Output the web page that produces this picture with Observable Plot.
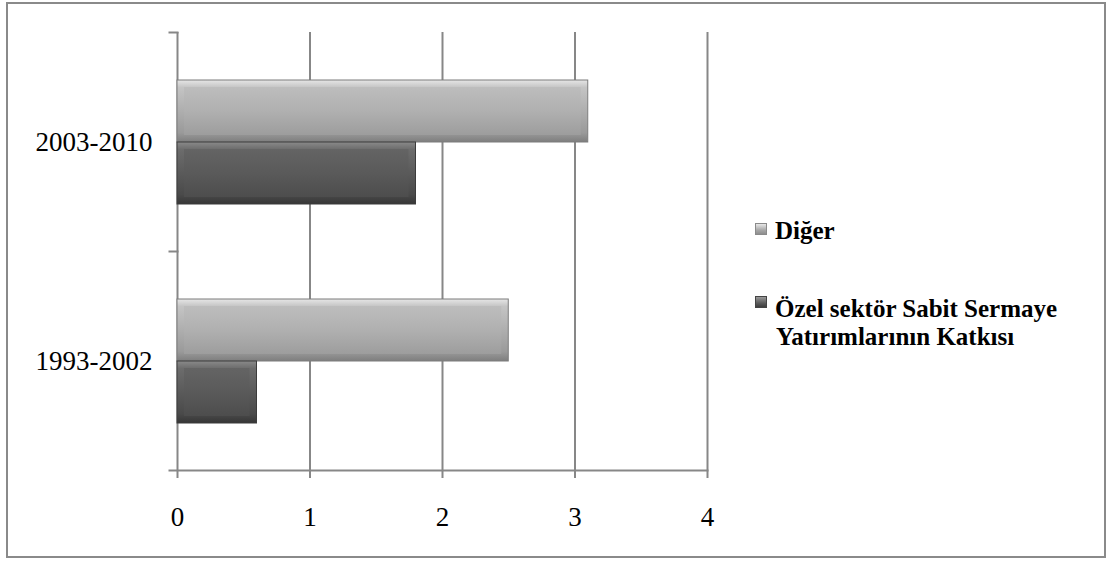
<!DOCTYPE html>
<html>
<head>
<meta charset="utf-8">
<script src="https://cdn.jsdelivr.net/npm/d3@7"></script>
<script src="https://cdn.jsdelivr.net/npm/@observablehq/plot@0.6"></script>
<style>
  body { margin: 0; background: #fff; }
  #wrap { position: relative; width: 1112px; height: 561px; overflow: hidden; font-family: "Liberation Serif", "DejaVu Serif", serif; }
  #border { position: absolute; left: 6px; top: 2px; width: 1100px; height: 556px; box-sizing: border-box; border: 2px solid #8a8a8a; pointer-events: none; }
  .leg { position: absolute; left: 755px; font-family: "Liberation Serif", "DejaVu Serif", serif; font-weight: 700; font-size: 25px; line-height: 28px; color: #000; white-space: nowrap; }
  .sw { position: absolute; left: 0; width: 12px; height: 12px; box-sizing: border-box; }
  .leg span.t { display: block; padding-left: 20px; }
  .leg span.t2 { display: block; padding-left: 21px; }
</style>
</head>
<body>
<div id="wrap">
  <div id="chart"></div>
  <div id="border"></div>
  <div id="legend"></div>
</div>
<script>
const periods = ["2003-2010", "1993-2002"];
const seriesNames = ["Diğer", "Özel sektör Sabit Sermaye Yatırımlarının Katkısı"];
const digerValues = [3.1, 2.5];
const ozelValues = [1.8, 0.6];
const xTicks = [0, 1, 2, 3, 4];

const data = periods.flatMap((p, i) => [
  {period: p, series: seriesNames[0], value: digerValues[i]},
  {period: p, series: seriesNames[1], value: ozelValues[i]}
]);
const diger = data.filter(d => d.series === seriesNames[0]);
const ozel = data.filter(d => d.series === seriesNames[1]);

const axisGray = "#878787";
const serif = "'Liberation Serif', 'DejaVu Serif', serif";

const chart = Plot.plot({
  width: 1112,
  height: 561,
  marginLeft: 177,
  marginRight: 405,
  marginTop: 32,
  marginBottom: 91,
  style: {fontFamily: serif, fontSize: "27px", color: "#000", background: "transparent", overflow: "visible"},
  x: {domain: [0, 4]},
  y: {domain: seriesNames, paddingInner: 0, paddingOuter: 0.766, axis: null},
  fy: {domain: periods, padding: 0},
  marks: [
    Plot.gridX(xTicks, {stroke: axisGray, strokeOpacity: 1, strokeWidth: 2}),
    Plot.frame({anchor: "top", insetLeft: -8, insetRight: 530, stroke: axisGray, strokeWidth: 2}),
    Plot.frame({anchor: "bottom", facetAnchor: "bottom", insetLeft: -8, stroke: axisGray, strokeWidth: 2}),
    Plot.barX(diger, {fy: "period", y: "series", x: "value", fill: "url(#edgeDiger)", stroke: "#7c7c7c", strokeWidth: 1}),
    Plot.barX(diger, {fy: "period", y: "series", x: "value", fill: "url(#faceDiger)", insetTop: 7, insetBottom: 7, insetLeft: 7, insetRight: 7}),
    Plot.barX(ozel, {fy: "period", y: "series", x: "value", fill: "url(#edgeOzel)", stroke: "#3c3c3c", strokeWidth: 1}),
    Plot.barX(ozel, {fy: "period", y: "series", x: "value", fill: "url(#faceOzel)", insetTop: 7, insetBottom: 7, insetLeft: 7, insetRight: 7}),
    Plot.axisX({ticks: xTicks, tickSize: 8, tickPadding: 28, tickFormat: d => String(d), label: null, stroke: axisGray, strokeWidth: 2, fill: "#000", fontSize: 27, fontFamily: serif}),
    Plot.axisFy({anchor: "left", tickSize: 0, tickPadding: 25, label: null, fill: "#000", fontSize: 27, fontFamily: serif})
  ]
});

// gradients and shadow
const svg = d3.select(chart);
const defs = svg.insert("defs", ":first-child");
function grad(id, stops) {
  const g = defs.append("linearGradient").attr("id", id).attr("x1", 0).attr("y1", 0).attr("x2", 0).attr("y2", 1);
  stops.forEach(([o, c]) => g.append("stop").attr("offset", o).attr("stop-color", c));
}
grad("edgeDiger", [[0, "#e6e6e6"], [0.12, "#c4c4c4"], [0.85, "#9a9a9a"], [1, "#7e7e7e"]]);
grad("faceDiger", [[0, "#bdbdbd"], [0.5, "#b0b0b0"], [1, "#9d9d9d"]]);
grad("edgeOzel", [[0, "#8a8a8a"], [0.12, "#6c6c6c"], [0.85, "#4a4a4a"], [1, "#363636"]]);
grad("faceOzel", [[0, "#646464"], [0.5, "#5a5a5a"], [1, "#4d4d4d"]]);
const f = defs.append("filter").attr("id", "shadow").attr("x", "-5%").attr("y", "-20%").attr("width", "115%").attr("height", "160%");
f.append("feDropShadow").attr("dx", 2).attr("dy", 3).attr("stdDeviation", 2).attr("flood-color", "#000").attr("flood-opacity", 0.3);
svg.selectAll("g[aria-label='bar']").filter(function() {
  const fill = this.getAttribute("fill") || "";
  return fill.includes("edge");
}).attr("filter", "url(#shadow)");

document.getElementById("chart").appendChild(chart);

// legend
const legend = document.getElementById("legend");
const legendItems = [
  {name: seriesNames[0], top: 217, swTop: 6, bg: "linear-gradient(#e8e8e8, #a8a8a8 60%, #8e8e8e)", border: "#8a8a8a", lines: ["Diğer"]},
  {name: seriesNames[1], top: 295, swTop: 1, bg: "linear-gradient(#9a9a9a, #5c5c5c 60%, #3e3e3e)", border: "#444", lines: ["Özel sektör Sabit Sermaye", "Yatırımlarının Katkısı"]}
];
legendItems.forEach(it => {
  const d = document.createElement("div");
  d.className = "leg";
  d.style.top = it.top + "px";
  const sw = document.createElement("div");
  sw.className = "sw";
  sw.style.top = it.swTop + "px";
  sw.style.background = it.bg;
  sw.style.border = "1px solid " + it.border;
  d.appendChild(sw);
  it.lines.forEach((l, i) => {
    const s = document.createElement("span");
    s.className = i === 0 ? "t" : "t2";
    s.textContent = l;
    d.appendChild(s);
  });
  legend.appendChild(d);
});
</script>
</body>
</html>
